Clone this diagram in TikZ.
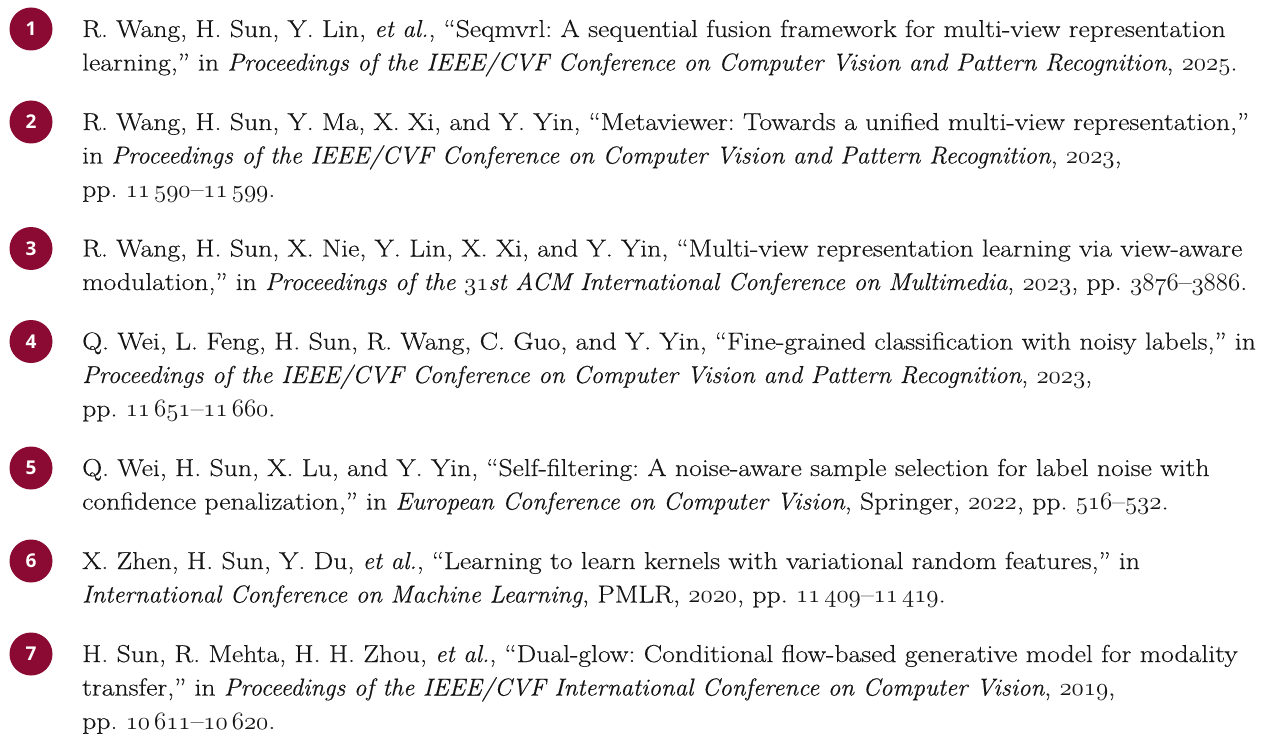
\documentclass[tikz,border=0pt]{standalone}
\usepackage{fontspec}
\setmainfont{Latin Modern Roman}[UprightFeatures={FakeStretch=1.13,FakeBold=0.3},ItalicFeatures={FakeStretch=1.015,FakeBold=0.3}]
\newfontfamily\numfont{Open Sans}
\definecolor{crim}{RGB}{139,10,51}
\newcommand\os[1]{\legacyoldstylenums{#1}}
\frenchspacing
\begin{document}
\begin{tikzpicture}[x=1pt,y=-1pt,
  badge/.style={circle,fill=crim,minimum size=43pt,inner sep=0pt,text=white,
    font=\numfont\bfseries\fontsize{19}{19}\selectfont},
  refline/.style={anchor=base west,inner sep=0pt,text=black!92,
    font=\fontsize{24.5}{29}\selectfont\frenchspacing}]
\useasboundingbox (0,0) rectangle (1268,738);
\fill[white] (0,0) rectangle (1268,738);
% entry 1
\node[badge] (n1) at (31,29) {1};
\node[refline] (e1a) at (82,37) {R. Wang, H. Sun, Y. Lin, \textit{et al.}, “Seqmvrl: A sequential fusion framework for multi-view representation};
\node[refline] (e1b) at (82,70.5) {learning,” in \textit{Proceedings of the IEEE/CVF Conference on Computer Vision and Pattern Recognition}, \os{2025}.};
% entry 2
\node[badge] (n2) at (31,122) {2};
\node[refline] (e2a) at (82,130) {R. Wang, H. Sun, Y. Ma, X. Xi, and Y. Yin, “Metaviewer: Towards a unified multi-view representation,”};
\node[refline] (e2b) at (82,163.5) {in \textit{Proceedings of the IEEE/CVF Conference on Computer Vision and Pattern Recognition}, \os{2023},};
\node[refline] (e2c) at (82,197) {pp. \os{11\,590}–\os{11\,599}.};
% entry 3
\node[badge] (n3) at (31,248.5) {3};
\node[refline] (e3a) at (82,256.5) {R. Wang, H. Sun, X. Nie, Y. Lin, X. Xi, and Y. Yin, “Multi-view representation learning via view-aware};
\node[refline] (e3b) at (82,290) {modulation,” in \textit{Proceedings of the \os{31}st ACM International Conference on Multimedia}, \os{2023}, pp. \os{3876}–\os{3886}.};
% entry 4
\node[badge] (n4) at (31,341.5) {4};
\node[refline] (e4a) at (82,349.5) {Q. Wei, L. Feng, H. Sun, R. Wang, C. Guo, and Y. Yin, “Fine-grained classification with noisy labels,” in};
\node[refline] (e4b) at (82,383) {\textit{Proceedings of the IEEE/CVF Conference on Computer Vision and Pattern Recognition}, \os{2023},};
\node[refline] (e4c) at (82,416.5) {pp. \os{11\,651}–\os{11\,660}.};
% entry 5
\node[badge] (n5) at (31,468) {5};
\node[refline] (e5a) at (82,476) {Q. Wei, H. Sun, X. Lu, and Y. Yin, “Self-filtering: A noise-aware sample selection for label noise with};
\node[refline] (e5b) at (82,509.5) {confidence penalization,” in \textit{European Conference on Computer Vision}, Springer, \os{2022}, pp. \os{516}–\os{532}.};
% entry 6
\node[badge] (n6) at (31,561) {6};
\node[refline] (e6a) at (82,569) {X. Zhen, H. Sun, Y. Du, \textit{et al.}, “Learning to learn kernels with variational random features,” in};
\node[refline] (e6b) at (82,602.5) {\textit{International Conference on Machine Learning}, PMLR, \os{2020}, pp. \os{11\,409}–\os{11\,419}.};
% entry 7
\node[badge] (n7) at (31,654) {7};
\node[refline] (e7a) at (82,662) {H. Sun, R. Mehta, H. H. Zhou, \textit{et al.}, “Dual-glow: Conditional flow-based generative model for modality};
\node[refline] (e7b) at (82,695.5) {transfer,” in \textit{Proceedings of the IEEE/CVF International Conference on Computer Vision}, \os{2019},};
\node[refline] (e7c) at (82,729) {pp. \os{10\,611}–\os{10\,620}.};
\end{tikzpicture}
\end{document}
